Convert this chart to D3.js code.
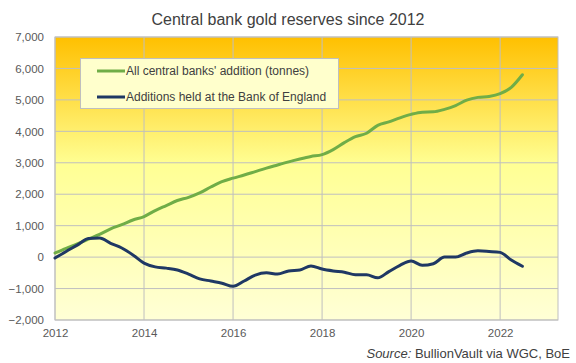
<!DOCTYPE html>
<html>
<head>
<meta charset="utf-8">
<script src="https://cdn.jsdelivr.net/npm/d3@7"></script>
<style>
  body { margin: 0; background: #fff; }
  text { font-family: "Liberation Sans", Arial, sans-serif; }
</style>
</head>
<body>
<div id="chart"></div>
<script>
// quarterly points, 2012 Q1 .. 2022 Q3
var dates = [2012.0, 2012.25, 2012.5, 2012.75, 2013.0, 2013.25, 2013.5, 2013.75,
  2014.0, 2014.25, 2014.5, 2014.75, 2015.0, 2015.25, 2015.5, 2015.75,
  2016.0, 2016.25, 2016.5, 2016.75, 2017.0, 2017.25, 2017.5, 2017.75,
  2018.0, 2018.25, 2018.5, 2018.75, 2019.0, 2019.25, 2019.5, 2019.75,
  2020.0, 2020.25, 2020.5, 2020.75, 2021.0, 2021.25, 2021.5, 2021.75,
  2022.0, 2022.25, 2022.5];

var allBanks = [130, 280, 420, 570, 720, 900, 1030, 1180,
  1290, 1480, 1640, 1800, 1900, 2040, 2230, 2400,
  2510, 2610, 2720, 2830, 2930, 3030, 3120, 3200,
  3260, 3420, 3640, 3830, 3940, 4190, 4300, 4430,
  4540, 4610, 4620, 4700, 4820, 4990, 5080, 5110,
  5200, 5400, 5800];

var boe = [-30, 180, 380, 590, 610, 440, 290, 70,
  -190, -310, -350, -410, -540, -690, -760, -830,
  -930, -760, -570, -500, -540, -440, -410, -280,
  -380, -440, -480, -560, -560, -660, -460, -260,
  -120, -260, -210, 0, 0, 130, 200, 180,
  150, -90, -290];

var seriesNames = ["All central banks' addition (tonnes)", "Additions held at the Bank of England"];
var seriesColors = ["#70ad47", "#1f3864"];
var xTicks = [2012, 2014, 2016, 2018, 2020, 2022];
var yTicks = [-2000, -1000, 0, 1000, 2000, 3000, 4000, 5000, 6000, 7000];

var margin = {top: 37, right: 18, bottom: 43, left: 55},
    width = 576 - margin.left - margin.right,
    height = 363 - margin.top - margin.bottom;

var svg = d3.select("#chart")
  .append("svg")
    .attr("width", 576)
    .attr("height", 363);

var defs = svg.append("defs");
var grad = defs.append("linearGradient")
  .attr("id", "bg")
  .attr("x1", 0).attr("y1", 0).attr("x2", 0).attr("y2", 1);
grad.append("stop").attr("offset", "0%").attr("stop-color", "#ffc000");
grad.append("stop").attr("offset", "45%").attr("stop-color", "#ffff94");
grad.append("stop").attr("offset", "100%").attr("stop-color", "#ffffd6");

var g = svg.append("g")
  .attr("transform", "translate(" + margin.left + "," + margin.top + ")");

var x = d3.scaleLinear().domain([2012, 2023.3]).range([0, width]);
var y = d3.scaleLinear().domain([-2000, 7000]).range([height, 0]);

g.append("rect")
  .attr("width", width)
  .attr("height", height)
  .attr("fill", "url(#bg)");

// gridlines
g.append("g").selectAll("line.h")
  .data(yTicks)
  .enter().append("line")
    .attr("x1", 0).attr("x2", width)
    .attr("y1", function(d) { return y(d); })
    .attr("y2", function(d) { return y(d); })
    .attr("stroke", "#bfbfbf").attr("stroke-width", 1);

g.append("g").selectAll("line.v")
  .data(xTicks)
  .enter().append("line")
    .attr("x1", function(d) { return x(d); })
    .attr("x2", function(d) { return x(d); })
    .attr("y1", 0).attr("y2", height)
    .attr("stroke", "#bfbfbf").attr("stroke-width", 1);

g.append("rect")
  .attr("width", width)
  .attr("height", height)
  .attr("fill", "none")
  .attr("stroke", "#bfbfbf");

// axes
var fmt = d3.format(",");
var yAxis = g.append("g")
  .call(d3.axisLeft(y).tickValues(yTicks).tickSize(0).tickPadding(11).tickFormat(fmt));
var xAxis = g.append("g")
  .attr("transform", "translate(0," + height + ")")
  .call(d3.axisBottom(x).tickValues(xTicks).tickSize(0).tickPadding(9).tickFormat(d3.format("d")));
[yAxis, xAxis].forEach(function(a) {
  a.select(".domain").remove();
  a.selectAll("text")
    .style("font-family", "'Liberation Sans', Arial, sans-serif")
    .style("font-size", "11.5px")
    .attr("fill", "#595959");
});

// lines
var line = d3.line()
  .x(function(d, i) { return x(dates[i]); })
  .y(function(d) { return y(d); })
  .curve(d3.curveMonotoneX);

[allBanks, boe].forEach(function(s, i) {
  g.append("path")
    .datum(s)
    .attr("d", line)
    .attr("fill", "none")
    .attr("stroke", seriesColors[i])
    .attr("stroke-width", 3)
    .attr("stroke-linejoin", "round")
    .attr("stroke-linecap", "round");
});

// legend
var legend = svg.append("g");
legend.append("rect")
  .attr("x", 80.5).attr("y", 58.5)
  .attr("width", 258).attr("height", 50)
  .attr("fill", "#ffffcc")
  .attr("stroke", "#bfbfbf");
seriesNames.forEach(function(name, i) {
  var ly = 71 + i * 26;
  legend.append("line")
    .attr("x1", 97).attr("x2", 125)
    .attr("y1", ly).attr("y2", ly)
    .attr("stroke", seriesColors[i])
    .attr("stroke-width", 3);
  legend.append("text")
    .attr("x", 126).attr("y", ly + 4)
    .attr("font-size", "12px")
    .attr("fill", "#404040")
    .text(name);
});

// title
svg.append("text")
  .attr("x", 288).attr("y", 25)
  .attr("text-anchor", "middle")
  .attr("font-size", "16px")
  .attr("fill", "#404040")
  .text("Central bank gold reserves since 2012");

// source
var src = svg.append("text")
  .attr("x", 570).attr("y", 358)
  .attr("text-anchor", "end")
  .attr("font-size", "13px")
  .attr("fill", "#404040");
src.append("tspan").attr("font-style", "italic").text("Source:");
src.append("tspan").text(" BullionVault via WGC, BoE");
</script>
</body>
</html>
